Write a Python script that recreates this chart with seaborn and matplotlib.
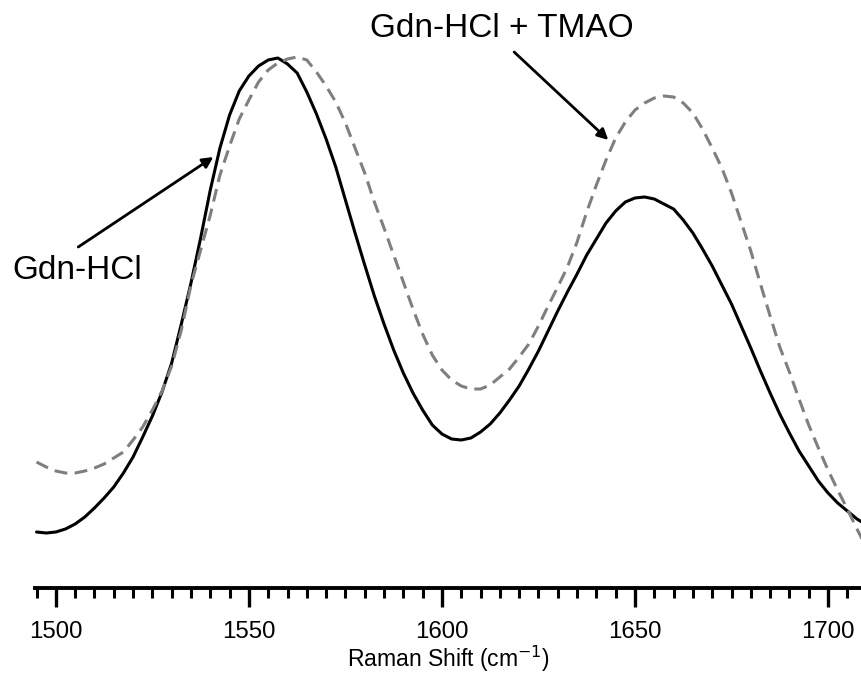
import pandas as pd
import seaborn as sns
import matplotlib.pyplot as plt
from matplotlib.ticker import MultipleLocator

# Raman spectra, amide region (intensity in arbitrary units)
shift = [1495, 1497.5, 1500, 1502.5, 1505, 1507.5, 1510, 1512.5, 1515, 1517.5,
         1520, 1522.5, 1525, 1527.5, 1530, 1532.5, 1535, 1537.5, 1540, 1542.5,
         1545, 1547.5, 1550, 1552.5, 1555, 1557.5, 1560, 1562.5, 1565, 1567.5,
         1570, 1572.5, 1575, 1577.5, 1580, 1582.5, 1585, 1587.5, 1590, 1592.5,
         1595, 1597.5, 1600, 1602.5, 1605, 1607.5, 1610, 1612.5, 1615, 1617.5,
         1620, 1622.5, 1625, 1627.5, 1630, 1632.5, 1635, 1637.5, 1640, 1642.5,
         1645, 1647.5, 1650, 1652.5, 1655, 1657.5, 1660, 1662.5, 1665, 1667.5,
         1670, 1672.5, 1675, 1677.5, 1680, 1682.5, 1685, 1687.5, 1690, 1692.5,
         1695, 1697.5, 1700, 1702.5, 1705, 1707.5, 1710]
gdn = [68, 67, 68, 71, 76, 83, 92, 102, 113, 127,
       143, 163, 184, 208, 237, 276, 317, 362, 410, 452,
       485, 509, 524, 534, 540, 542, 536, 527, 508, 486,
       461, 433, 400, 367, 335, 304, 276, 250, 227, 207,
       190, 175, 166, 161, 160, 162, 168, 176, 187, 200,
       214, 231, 249, 269, 289, 308, 326, 345, 361, 377,
       389, 398, 402, 403, 401, 396, 391, 380, 367, 351,
       334, 315, 296, 274, 252, 229, 207, 186, 167, 149,
       134, 119, 107, 97, 89, 81, 75]
gdn_tmao = [138, 133, 129, 127, 127, 129, 132, 136, 142, 148,
            160, 173, 190, 209, 234, 270, 315, 350, 385, 425,
            454, 481, 500, 518, 530, 537, 541, 543, 540, 528,
            514, 498, 477, 452, 427, 398, 372, 345, 318, 291,
            266, 245, 230, 220, 214, 211, 211, 215, 223, 231,
            243, 256, 274, 294, 313, 333, 358, 388, 415, 440,
            462, 478, 490, 497, 502, 504, 503, 497, 487, 471,
            452, 432, 407, 378, 349, 316, 284, 253, 228, 201,
            175, 152, 130, 110, 91, 71, 52]

df = pd.DataFrame({"shift": shift, "gdn": gdn, "gdn_tmao": gdn_tmao})

sns.set_style("white")
plt.rcParams["font.family"] = ["Liberation Sans", "DejaVu Sans"]
plt.rcParams["text.color"] = "black"
plt.rcParams["axes.labelcolor"] = "black"
plt.rcParams["xtick.color"] = "black"

fig = plt.figure(figsize=(8.62, 6.76), dpi=100)
ax = fig.add_axes([35 / 862, 88 / 676, 827 / 862, 588 / 676])

sns.lineplot(data=df, x="shift", y="gdn", ax=ax, color="black", lw=2.2)
sns.lineplot(data=df, x="shift", y="gdn_tmao", ax=ax, color="#7f7f7f", lw=2.2,
             linestyle=(0, (4.2, 2.4)))

ax.set_xlim(1494.6, 1708.8)
ax.set_ylim(12, 600)

# only the bottom axis is shown
for side in ["left", "top", "right"]:
    ax.spines[side].set_visible(False)
ax.spines["bottom"].set_linewidth(2.8)
ax.spines["bottom"].set_color("black")
ax.set_yticks([])
ax.xaxis.set_major_locator(MultipleLocator(50))
ax.xaxis.set_minor_locator(MultipleLocator(5))
ax.tick_params(axis="x", which="major", direction="out", length=13.4, width=2.4,
               pad=10, labelsize=17.3, bottom=True, color="black")
ax.tick_params(axis="x", which="minor", direction="out", length=7, width=2.2,
               bottom=True, color="black")
ax.set_xlabel("Raman Shift (cm$^{-1}$)", fontsize=16.5, labelpad=1)
ax.set_ylabel("")

ax.text(1488.7, 321, "Gdn-HCl", fontsize=24, ha="left", va="baseline", clip_on=False)
ax.annotate("", xy=(1540.8, 443), xytext=(1505.8, 353),
            arrowprops=dict(arrowstyle="-|>", lw=2, color="black",
                            mutation_scale=16, shrinkA=0, shrinkB=0),
            annotation_clip=False)

ax.text(1581.4, 563, "Gdn-HCl + TMAO", fontsize=24, ha="left", va="baseline")
ax.annotate("", xy=(1643.1, 460), xytext=(1618.7, 548),
            arrowprops=dict(arrowstyle="-|>", lw=2, color="black",
                            mutation_scale=16, shrinkA=0, shrinkB=0))

fig.savefig("out.png", dpi=100)
